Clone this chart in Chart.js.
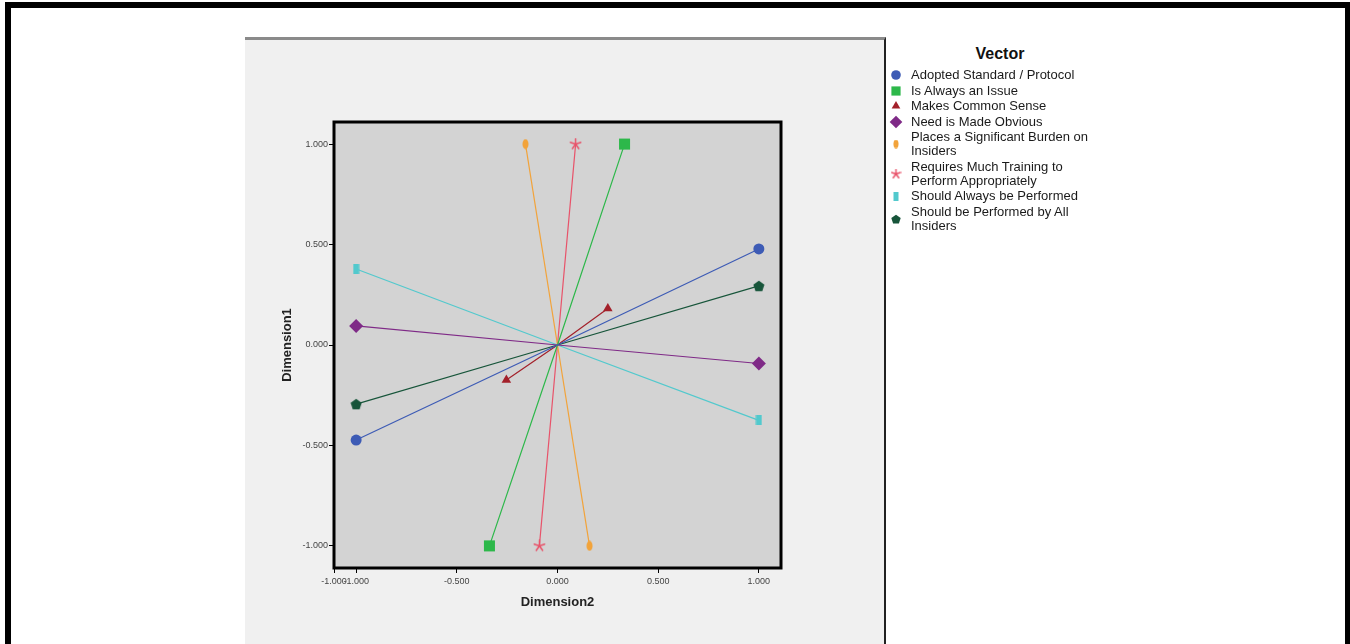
<!DOCTYPE html>
<html>
<head>
<meta charset="utf-8">
<title>Vector</title>
<script src="https://cdn.jsdelivr.net/npm/chart.js@4.4.1/dist/chart.umd.min.js"></script>
<style>
   body {
      margin: 0;
      background: #ffffff;
      font-family: "Liberation Sans", Arial, sans-serif;
   }

   .frame {
      position: absolute;
      left: 5px;
      top: 2px;
      width: 1345px;
      height: 700px;
      box-sizing: border-box;
      border-top: 6px solid #000;
      border-left: 6px solid #000;
      border-right: 5px solid #000;
   }

   .panel {
      position: absolute;
      left: 245px;
      top: 37px;
      width: 641px;
      height: 640px;
      box-sizing: border-box;
      background: #f0f0f0;
      border-top: 3px solid #8a8a8a;
      border-right: 2px solid #222;
   }

   .chart-box {
      position: absolute;
      left: 245px;
      top: 40px;
      width: 639px;
      height: 604px;
   }

   .legend-title {
      position: absolute;
      left: 890px;
      top: 45px;
      width: 220px;
      text-align: center;
      font-weight: bold;
      font-size: 16px;
      color: #111;
   }

   .legend {
      position: absolute;
      left: 889px;
      top: 68px;
   }

   .legend-row {
      display: flex;
      align-items: center;
      margin-bottom: 1.5px;
   }

   .legend-row canvas {
      width: 14px;
      height: 14px;
      margin-right: 8px;
   }

   .legend-row div {
      font-size: 13px;
      line-height: 14px;
      color: #1a1a1a;
   }
</style>
</head>
<body>

<div class="frame"></div>
<div class="panel"></div>
<div class="chart-box"><canvas id="vectorChart"></canvas></div>
<div class="legend-title">Vector</div>
<div class="legend" id="vectorLegend"></div>

<script>
// vectors, one line per item from one end through the origin to the other
const vectorNames = [
   'Adopted Standard / Protocol',
   'Is Always an Issue',
   'Makes Common Sense',
   'Need is Made Obvious',
   ['Places a Significant Burden on', 'Insiders'],
   ['Requires Much Training to', 'Perform Appropriately'],
   'Should Always be Performed',
   ['Should be Performed by All', 'Insiders']
];

const dim2Start = [1.000, 0.333, 0.250, -1.000, -0.159, 0.090, -1.000, 1.000];
const dim1Start = [0.478, 1.000, 0.182, 0.095, 1.000, 1.000, 0.378, 0.294];

const dim2End = [-1.000, -0.338, -0.254, 1.000, 0.159, -0.090, 1.000, -1.000];
const dim1End = [-0.473, -1.000, -0.174, -0.092, -1.000, -1.000, -0.375, -0.294];

const originDim2 = 0;
const originDim1 = 0;

const xTickValues = [-1.11, -1.0, -0.5, 0, 0.5, 1.0];
const xTickLabels = ['-1.000', '-1.000', '-0.500', '0.000', '0.500', '1.000'];

const yTickValues = [-1.0, -0.5, 0, 0.5, 1.0];
const yTickLabels = ['-1.000', '-0.500', '0.000', '0.500', '1.000'];

const vectorColors = [
   '#3d5bb5',
   '#2db84a',
   '#a3202a',
   '#7f2a87',
   '#f2a33a',
   '#e8536a',
   '#52c9cd',
   '#17553a'
];

// little canvases for the marker shapes chart.js has no name for
function makeShape(kind, color, scale) {
   const c = document.createElement('canvas');
   const g = c.getContext('2d');
   g.fillStyle = color;
   g.strokeStyle = color;

   if (kind === 'oval') {
      c.width = Math.round(7 * scale);
      c.height = Math.round(11 * scale);
      g.fillStyle = color;
      g.beginPath();
      g.ellipse(c.width / 2, c.height / 2, 3 * scale, 5 * scale, 0, 0, Math.PI * 2);
      g.fill();
   } else if (kind === 'bar') {
      c.width = Math.round(7 * scale);
      c.height = Math.round(10 * scale);
      g.fillStyle = color;
      g.fillRect(0.5, 0, c.width - 1, c.height);
   } else if (kind === 'asterisk') {
      c.width = Math.round(13 * scale);
      c.height = Math.round(13 * scale);
      g.strokeStyle = color;
      g.lineWidth = 1.5;
      g.lineCap = 'round';
      g.beginPath();
      for (let k = 0; k < 5; k++) {
         const a = -Math.PI / 2 + k * 2 * Math.PI / 5;
         g.moveTo(c.width / 2, c.height / 2);
         g.lineTo(c.width / 2 + Math.cos(a) * 5.5 * scale, c.height / 2 + Math.sin(a) * 5.5 * scale);
      }
      g.stroke();
   } else {
      c.width = Math.round(12 * scale);
      c.height = Math.round(12 * scale);
      g.fillStyle = color;
      g.beginPath();
      for (let k = 0; k < 5; k++) {
         const a = -Math.PI / 2 + k * 2 * Math.PI / 5;
         const px = c.width / 2 + Math.cos(a) * 5.8 * scale;
         const py = c.height / 2 + 0.6 + Math.sin(a) * 5.8 * scale;
         if (k === 0) g.moveTo(px, py); else g.lineTo(px, py);
      }
      g.closePath();
      g.fill();
   }
   return c;
}

function markerStyles(scale) {
   return [
      'circle',
      'rect',
      'triangle',
      'rectRot',
      makeShape('oval', vectorColors[4], scale),
      makeShape('asterisk', vectorColors[5], scale),
      makeShape('bar', vectorColors[6], scale),
      makeShape('pentagon', vectorColors[7], scale)
   ];
}

const pointStyles = markerStyles(1);
const pointSizes = [5.5, 7.8, 5.5, 7, 6, 6, 6, 6];

const datasets = vectorNames.map(function (name, i) {
   return {
      label: Array.isArray(name) ? name.join(' ') : name,
      data: [
         { x: dim2Start[i], y: dim1Start[i] },
         { x: originDim2, y: originDim1 },
         { x: dim2End[i], y: dim1End[i] }
      ],
      showLine: true,
      borderColor: vectorColors[i],
      borderWidth: 1.2,
      pointStyle: pointStyles[i],
      pointRadius: [pointSizes[i], 0, pointSizes[i]],
      pointBackgroundColor: vectorColors[i],
      pointBorderColor: vectorColors[i],
      pointBorderWidth: 0,
      pointHoverRadius: 0
   };
});

const plotFrame = {
   id: 'plotFrame',
   beforeDraw(chart) {
      const a = chart.chartArea;
      const ctx = chart.ctx;
      ctx.save();
      ctx.fillStyle = '#d3d3d3';
      ctx.fillRect(a.left, a.top, a.right - a.left, a.bottom - a.top);
      ctx.restore();
   },
   beforeDatasetsDraw(chart) {
      const a = chart.chartArea;
      const ctx = chart.ctx;
      ctx.save();
      ctx.strokeStyle = '#000';
      ctx.lineWidth = 3;
      ctx.strokeRect(a.left, a.top, a.right - a.left, a.bottom - a.top);
      ctx.restore();
   }
};

const vecCtx = document.getElementById('vectorChart');

new Chart(vecCtx, {
   type: 'scatter',

   data: {
      datasets: datasets
   },

   plugins: [plotFrame],

   options: {
      responsive: true,

      maintainAspectRatio: false,

      animation: false,

      layout: {
         padding: {
            left: 0,
            top: 82,
            right: 103,
            bottom: 0
         }
      },

      plugins: {
         legend: {
            display: false
         },

         tooltip: {
            enabled: false
         }
      },

      scales: {
         x: {
            type: 'linear',

            min: -1.11,

            max: 1.11,

            afterBuildTicks: function (scale) {
               scale.ticks = xTickValues.map(v => ({ value: v }));
            },

            afterFit: function (scale) {
               scale.height = 76;
            },

            grid: {
               drawOnChartArea: false,
               drawTicks: true,
               tickLength: 5,
               color: '#000'
            },

            border: {
               display: false
            },

            ticks: {
               autoSkip: false,
               maxRotation: 0,
               padding: 3,
               color: '#444',
               font: {
                  family: '"Liberation Sans", Arial, sans-serif',
                  size: 9
               },
               callback: function (value, index) {
                  return xTickLabels[index];
               }
            },

            title: {
               display: true,
               text: 'Dimension2',
               color: '#222',
               padding: { top: 0, bottom: 34 },
               font: {
                  family: '"Liberation Sans", Arial, sans-serif',
                  size: 13,
                  weight: 'bold'
               }
            }
         },

         y: {
            type: 'linear',

            min: -1.11,

            max: 1.11,

            afterBuildTicks: function (scale) {
               scale.ticks = yTickValues.map(v => ({ value: v }));
            },

            afterFit: function (scale) {
               scale.width = 89;
            },

            grid: {
               drawOnChartArea: false,
               drawTicks: true,
               tickLength: 5,
               color: '#000'
            },

            border: {
               display: false
            },

            ticks: {
               autoSkip: false,
               padding: 1,
               color: '#444',
               font: {
                  family: '"Liberation Sans", Arial, sans-serif',
                  size: 9
               },
               callback: function (value, index) {
                  return yTickLabels[index];
               }
            },

            title: {
               display: true,
               text: 'Dimension1',
               color: '#222',
               padding: { top: 35, bottom: 0 },
               font: {
                  family: '"Liberation Sans", Arial, sans-serif',
                  size: 13,
                  weight: 'bold'
               }
            }
         }
      }
   }
});

// legend on the white side
const legendStyles = markerStyles(0.85);
const legendSizes = [4.8, 6.5, 5, 6.3, 4.5, 4.5, 4.5, 4.5];
const legendBox = document.getElementById('vectorLegend');

vectorNames.forEach(function (name, i) {
   const row = document.createElement('div');
   row.className = 'legend-row';

   const mark = document.createElement('canvas');
   mark.width = 14;
   mark.height = 14;
   const g = mark.getContext('2d');
   g.fillStyle = vectorColors[i];
   g.strokeStyle = vectorColors[i];
   if (Chart.helpers && Chart.helpers.drawPoint) {
      Chart.helpers.drawPoint(g, {
         pointStyle: legendStyles[i],
         radius: legendSizes[i],
         rotation: 0,
         borderWidth: 0
      }, 7, 7);
   }

   const text = document.createElement('div');
   text.innerHTML = Array.isArray(name) ? name.join('<br>') : name;

   row.appendChild(mark);
   row.appendChild(text);
   legendBox.appendChild(row);
});
</script>
</body>
</html>
